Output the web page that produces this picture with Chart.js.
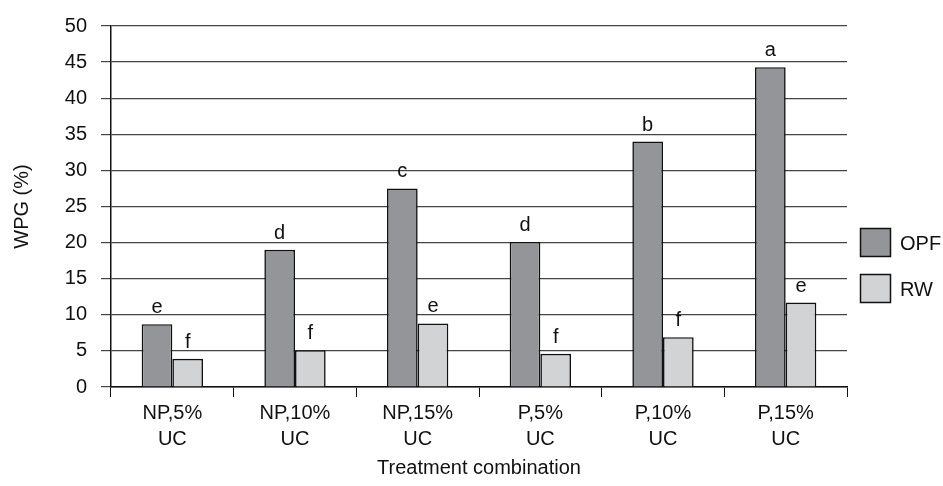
<!DOCTYPE html>
<html>
<head>
<meta charset="utf-8">
<script src="https://cdn.jsdelivr.net/npm/chart.js@4.4.1/dist/chart.umd.min.js"></script>
<style>
  html, body { margin: 0; padding: 0; background: #fff; }
  #wrap { width: 943px; height: 486px; }
</style>
</head>
<body>
<div id="wrap"><canvas id="chart"></canvas></div>
<script>
// Data
const categories = [["NP,5%", "UC"], ["NP,10%", "UC"], ["NP,15%", "UC"], ["P,5%", "UC"], ["P,10%", "UC"], ["P,15%", "UC"]];
const opfValues = [8.7, 19.0, 27.5, 20.1, 34.0, 44.3];
const rwValues = [3.9, 5.1, 8.8, 4.6, 6.9, 11.7];
const opfLetters = ["e", "d", "c", "d", "b", "a"];
const rwLetters = ["f", "f", "e", "f", "f", "e"];
const yTicks = [0, 5, 10, 15, 20, 25, 30, 35, 40, 45, 50];

const FONT = "'Liberation Sans', Arial, sans-serif";
const FSIZE = 20;

// Letters above the bars
const letterPlugin = {
    id: "letters",
    afterDatasetsDraw(chart) {
        const ctx = chart.ctx;
        ctx.save();
        ctx.font = FSIZE + "px " + FONT;
        ctx.fillStyle = "#111";
        ctx.textAlign = "center";
        ctx.textBaseline = "alphabetic";
        chart.data.datasets.forEach((ds, i) => {
            const meta = chart.getDatasetMeta(i);
            meta.data.forEach((bar, j) => {
                ctx.fillText(ds.letters[j], bar.x, bar.y - 11);
            });
        });
        ctx.restore();
    }
};

// Legend drawn to the right of the plot
const sideLegend = {
    id: "sideLegend",
    afterDraw(chart) {
        const ctx = chart.ctx;
        ctx.save();
        ctx.font = FSIZE + "px " + FONT;
        ctx.textBaseline = "middle";
        chart.data.datasets.forEach((ds, i) => {
            const x = 860, y = 228 + i * 46;
            ctx.fillStyle = ds.backgroundColor;
            ctx.fillRect(x, y, 31, 29);
            ctx.strokeStyle = "#111";
            ctx.lineWidth = 1.5;
            ctx.strokeRect(x + 0.5, y + 0.5, 30, 28);
            ctx.fillStyle = "#111";
            ctx.fillText(ds.label, x + 40, y + 16);
        });
        ctx.restore();
    }
};

new Chart(document.getElementById("chart"), {
    type: "bar",
    data: {
        labels: categories,
        datasets: [
            {
                label: "OPF",
                data: opfValues,
                letters: opfLetters,
                backgroundColor: "#939598",
                borderColor: "#111",
                borderWidth: 1.6
            },
            {
                label: "RW",
                data: rwValues,
                letters: rwLetters,
                backgroundColor: "#d1d3d4",
                borderColor: "#111",
                borderWidth: 1.6
            }
        ]
    },
    options: {
        responsive: true,
        maintainAspectRatio: false,
        animation: false,
        categoryPercentage: 0.5,
        barPercentage: 1.0,
        layout: { padding: { top: 25, right: 96, left: 0, bottom: 0 } },
        plugins: {
            legend: { display: false },
            tooltip: { enabled: false }
        },
        scales: {
            x: {
                grid: {
                    display: true,
                    offset: true,
                    drawOnChartArea: false,
                    drawTicks: true,
                    tickLength: 10,
                    color: "#111"
                },
                border: { color: "#111", width: 1.5 },
                ticks: {
                    color: "#111",
                    font: { family: FONT, size: FSIZE, lineHeight: 1.3 },
                    maxRotation: 0,
                    padding: 3
                },
                title: {
                    display: true,
                    text: "Treatment combination",
                    color: "#111",
                    font: { family: FONT, size: FSIZE },
                    padding: { top: 4, bottom: 6 }
                },
                afterFit: (scale) => { scale.height = 99; }
            },
            y: {
                min: 0,
                max: 50,
                afterBuildTicks: (scale) => { scale.ticks = yTicks.map(v => ({ value: v })); },
                grid: {
                    color: "#444",
                    lineWidth: 1.2,
                    drawTicks: true,
                    tickLength: 10
                },
                border: { color: "#111", width: 1.5 },
                ticks: {
                    color: "#111",
                    font: { family: FONT, size: FSIZE },
                    padding: 14
                },
                title: {
                    display: true,
                    text: "WPG (%)",
                    color: "#111",
                    font: { family: FONT, size: FSIZE },
                    padding: { top: 10, bottom: 10 }
                },
                afterFit: (scale) => { scale.width = 111; }
            }
        }
    },
    plugins: [letterPlugin, sideLegend]
});
</script>
</body>
</html>
